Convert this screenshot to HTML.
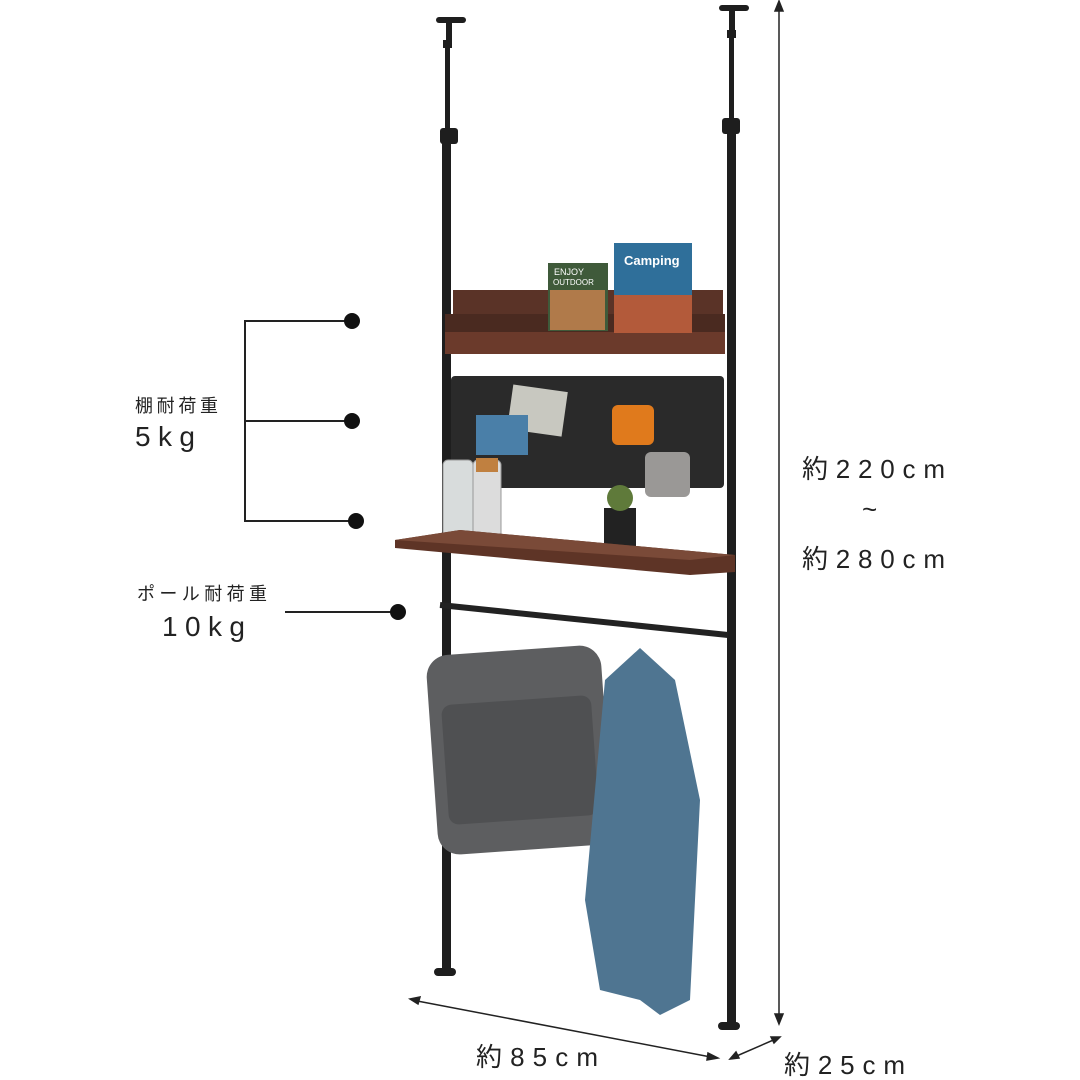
<!DOCTYPE html>
<html><head><meta charset="utf-8"><style>
html,body{margin:0;padding:0;background:#fff;}
svg{display:block;}
text{font-family:"Liberation Sans","Noto Sans CJK JP",sans-serif;fill:#222;}
</style></head><body>
<svg width="1080" height="1080" viewBox="0 0 1080 1080" xmlns="http://www.w3.org/2000/svg">
<rect width="1080" height="1080" fill="#fff"/>
<g fill="#1e1e1e">
<rect x="436" y="17" width="30" height="6" rx="3"/>
<rect x="446" y="22" width="6" height="20"/>
<rect x="443" y="40" width="9" height="8"/>
<rect x="445" y="48" width="5" height="90"/>
<rect x="440" y="128" width="18" height="16" rx="3"/>
<rect x="442" y="140" width="9" height="830"/>
<rect x="434" y="968" width="22" height="8" rx="4"/>
<rect x="719" y="5" width="30" height="6" rx="3"/>
<rect x="729" y="10" width="6" height="22"/>
<rect x="727" y="30" width="9" height="8"/>
<rect x="729" y="38" width="5" height="90"/>
<rect x="722" y="118" width="18" height="16" rx="3"/>
<rect x="727" y="130" width="9" height="895"/>
<rect x="718" y="1022" width="22" height="8" rx="4"/>
</g>
<rect x="453" y="290" width="270" height="26" fill="#5a3327"/>
<rect x="445" y="330" width="280" height="24" fill="#6b3a2b"/>
<rect x="445" y="314" width="280" height="18" fill="#4a2a20"/>
<rect x="548" y="263" width="60" height="68" fill="#3f5a3a"/>
<rect x="550" y="290" width="55" height="40" fill="#b07a4a"/>
<text x="554" y="275" font-size="9" style="fill:#fff">ENJOY</text>
<text x="553" y="285" font-size="8" style="fill:#fff">OUTDOOR</text>
<rect x="614" y="243" width="78" height="90" fill="#2f6f9a"/>
<rect x="614" y="295" width="78" height="38" fill="#b35a3a"/>
<text x="624" y="265" font-size="13" font-weight="bold" style="fill:#fff">Camping</text>
<rect x="451" y="376" width="273" height="112" rx="4" fill="#2a2a2a"/>
<rect x="510" y="388" width="55" height="45" fill="#c8c8c0" transform="rotate(8 537 410)"/>
<rect x="476" y="415" width="52" height="40" fill="#4a7fa8"/>
<rect x="612" y="405" width="42" height="40" rx="6" fill="#e07a1c"/>
<rect x="645" y="452" width="45" height="45" rx="6" fill="#9a9896"/>
<rect x="604" y="508" width="32" height="44" fill="#222"/>
<circle cx="620" cy="498" r="13" fill="#5f7a3a"/>
<rect x="443" y="460" width="30" height="80" rx="5" fill="#d8dcdc" stroke="#999"/>
<rect x="473" y="460" width="28" height="80" rx="5" fill="#dcdcdc" stroke="#999"/>
<rect x="476" y="458" width="22" height="14" fill="#c08040"/>
<polygon points="395,540 460,530 735,555 735,572 690,575 395,548" fill="#5e3426"/>
<polygon points="395,540 460,530 735,555 690,560" fill="#7a4a38"/>
<line x1="440" y1="605" x2="728" y2="635" stroke="#222" stroke-width="6"/>
<rect x="432" y="650" width="175" height="200" rx="22" fill="#5d5e60" transform="rotate(-4 520 750)"/>
<rect x="445" y="700" width="150" height="120" rx="10" fill="#4f5052" transform="rotate(-4 520 760)"/>
<path d="M640 648 L605 680 L585 900 L600 990 L640 1000 L660 1015 L690 1000 L700 800 L675 680 Z" fill="#4f7591"/>
<g stroke="#222" stroke-width="2" fill="none">
<polyline points="352,321 245,321 245,521 356,521"/>
<line x1="245" y1="421" x2="352" y2="421"/>
<line x1="285" y1="612" x2="398" y2="612"/>
</g>
<g fill="#111">
<circle cx="352" cy="321" r="8"/><circle cx="352" cy="421" r="8"/><circle cx="356" cy="521" r="8"/><circle cx="398" cy="612" r="8"/>
</g>
<text x="135" y="412" font-size="18" textLength="83" lengthAdjust="spacing">棚耐荷重</text>
<text x="135" y="446" font-size="28" textLength="60" lengthAdjust="spacing">5kg</text>
<text x="137" y="600" font-size="18" textLength="130" lengthAdjust="spacing">ポール耐荷重</text>
<text x="162" y="636" font-size="28" textLength="83" lengthAdjust="spacing">10kg</text>
<g stroke="#222" stroke-width="1.5" fill="#222">
<line x1="779" y1="3" x2="779" y2="1022"/>
<polygon points="779,1 775,11 783,11"/><polygon points="779,1024 775,1014 783,1014"/>
<line x1="412" y1="1000" x2="716" y2="1058"/>
<polygon points="410,999 420,997 418,1004"/><polygon points="718,1058 708,1053 707,1060"/>
<line x1="732" y1="1058" x2="778" y2="1038"/>
<polygon points="730,1059 736,1052 739,1058"/><polygon points="780,1037 771,1037 774,1043"/>
</g>
<text x="802" y="478" font-size="26" textLength="143" lengthAdjust="spacing">約220cm</text>
<text x="862" y="518" font-size="26">~</text>
<text x="802" y="568" font-size="26" textLength="143" lengthAdjust="spacing">約280cm</text>
<text x="476" y="1066" font-size="26" textLength="122" lengthAdjust="spacing">約85cm</text>
<text x="784" y="1074" font-size="26" textLength="121" lengthAdjust="spacing">約25cm</text>
</svg>
</body></html>
